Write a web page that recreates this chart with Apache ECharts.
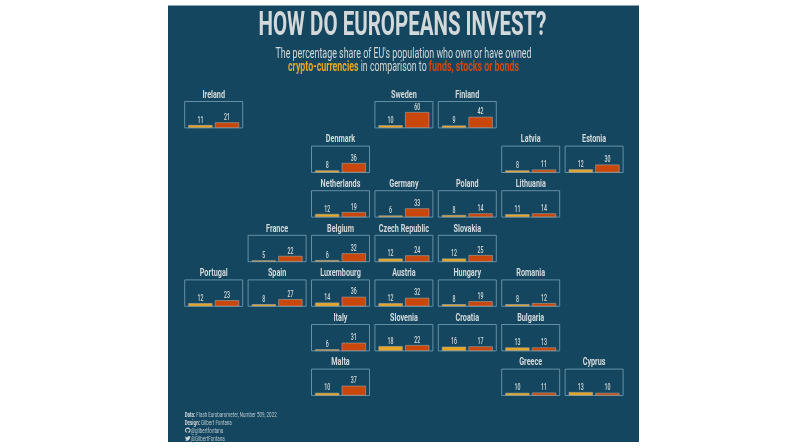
<!DOCTYPE html>
<html><head><meta charset="utf-8">
<style>html,body{margin:0;padding:0;background:#fff}#c{width:800px;height:448px}</style>
<script src="https://cdn.jsdelivr.net/npm/echarts@6/dist/echarts.min.js"></script>
</head><body><div id="c"></div>
<script>
const countries = ['Ireland','Sweden','Finland','Denmark','Latvia','Estonia','Netherlands','Germany','Poland','Lithuania','France','Belgium','Czech Republic','Slovakia','Portugal','Spain','Luxembourg','Austria','Hungary','Romania','Italy','Slovenia','Croatia','Bulgaria','Malta','Greece','Cyprus'];
const cryptoShare = [11,10,9,8,8,12,12,6,8,11,5,6,12,12,12,8,14,12,8,8,6,18,16,13,10,10,13];
const fundsShare  = [21,60,42,36,11,30,19,33,14,14,22,32,24,25,23,27,36,32,19,12,31,22,17,13,37,11,10];
const gridCol = [0,3,4,2,5,6,2,3,4,5,1,2,3,4,0,1,2,3,4,5,2,3,4,5,2,5,6];
const gridRow = [0,0,0,1,1,1,2,2,2,2,3,3,3,3,4,4,4,4,4,4,5,5,5,5,6,6,6];

const FONT = 'Roboto';
const X0 = 184.7, Y0 = 101.5, DX = 63.4, DY = 44.6, W = 58, H = 26.4;
const BG = '#14475f', YEL = '#e8a723', ORG = '#c9470b', TXT = '#d3d8da', FRAME = '#648fa5';

const ctx = document.createElement('canvas').getContext('2d');
function fit(text, font, target) { ctx.font = font; return target / ctx.measureText(text).width; }

const grids = [], xAxes = [], yAxes = [], series = [], graphic = [];
graphic.push({type: 'rect', z: -10, silent: true, shape: {x: 168, y: 5.5, width: 471, height: 436.5}, style: {fill: BG}});

const valueLabels = (api, offset) => {
  const p = api.coord([0, api.value(1)]);
  return {type: 'text', x: p[0] + offset, y: p[1] - 4.5, scaleX: 0.62, style: {
    text: String(api.value(1)), fill: TXT, font: '500 8.5px ' + FONT, align: 'center', verticalAlign: 'middle'}};
};

countries.forEach((name, i) => {
  const left = X0 + gridCol[i] * DX, top = Y0 + gridRow[i] * DY;
  grids.push({left, top, width: W, height: H, show: true, backgroundColor: 'transparent', borderColor: FRAME, borderWidth: 1});
  xAxes.push({type: 'category', gridIndex: i, data: [name], show: false});
  yAxes.push({type: 'value', gridIndex: i, min: 0, max: 100, show: false});
  [[cryptoShare, YEL, 'Crypto-currencies', -13.3], [fundsShare, ORG, 'Funds, stocks or bonds', 13.3]].forEach(([arr, color, sname, off]) => {
    series.push({
      type: 'bar', name: sname, xAxisIndex: i, yAxisIndex: i, data: [arr[i]], barWidth: 24.2, barGap: '10%',
      silent: true, animation: false,
      itemStyle: {color, borderColor: '#a9a39b', borderWidth: 0.6}
    });
    series.push({
      type: 'custom', coordinateSystem: 'cartesian2d', xAxisIndex: i, yAxisIndex: i, silent: true, animation: false, clip: false,
      data: [[0, arr[i]]], encode: {x: 0, y: 1},
      renderItem: (p, api) => valueLabels(api, off)
    });
  });
  graphic.push({type: 'text', silent: true, x: left + W / 2, y: top - 6.5, scaleX: 0.63, style: {
    text: name, fill: TXT, font: 'bold 11.5px ' + FONT, align: 'center', verticalAlign: 'middle'}});
});

const titleText = 'HOW DO EUROPEANS INVEST?', titleFont = 'bold 33px ' + FONT;
const sub1 = "The percentage share of EU's population who own or have owned", subFont = '14px ' + FONT, subBold = 'bold 14px ' + FONT;
const sub2a = 'crypto-currencies', sub2b = ' in comparison to ', sub2c = 'funds, stocks or bonds';
ctx.font = subBold; let w2 = ctx.measureText(sub2a).width + ctx.measureText(sub2c).width;
ctx.font = subFont; w2 += ctx.measureText(sub2b).width;

graphic.push(
  {type: 'text', silent: true, x: 402.5, y: 27, scaleX: fit(titleText, titleFont, 288), style: {text: titleText, fill: TXT, font: titleFont, align: 'center', verticalAlign: 'middle'}},
  {type: 'text', silent: true, x: 403.5, y: 54.5, scaleX: fit(sub1, subFont, 256), style: {text: sub1, fill: TXT, font: subFont, align: 'center', verticalAlign: 'middle'}},
  {type: 'text', silent: true, x: 403.5, y: 67.5, scaleX: 231 / w2, style: {
    text: '{a|' + sub2a + '}' + sub2b + '{o|' + sub2c + '}', fill: TXT, font: subFont, align: 'center', verticalAlign: 'middle',
    rich: {a: {fill: YEL, font: subBold}, o: {fill: '#d2480e', font: subBold}}
  }}
);

const foot = [
  ['{b|Data:} Flash Eurobarometer, Number 509, 2022', 184.7, 415.5],
  ['{b|Design:} Gilbert Fontana', 184.7, 423.5],
  ['@gilbertfontana', 191, 431],
  ['@GilbertFontana', 191, 439]
];
foot.forEach(([text, x, y]) => graphic.push({type: 'text', silent: true, x, y, scaleX: 0.6, style: {
  text, fill: '#b9c6cd', font: '7.5px ' + FONT, verticalAlign: 'middle',
  rich: {b: {fill: TXT, font: 'bold 7.5px ' + FONT}}
}}));

const TW = 'M23.953 4.57a10 10 0 0 1-2.825.775 4.958 4.958 0 0 0 2.163-2.723c-.951.555-2.005.959-3.127 1.184a4.92 4.92 0 0 0-8.384 4.482C7.69 8.095 4.067 6.13 1.64 3.162a4.822 4.822 0 0 0-.666 2.475c0 1.71.87 3.213 2.188 4.096a4.904 4.904 0 0 1-2.228-.616v.06a4.923 4.923 0 0 0 3.946 4.827 4.996 4.996 0 0 1-2.212.085 4.936 4.936 0 0 0 4.604 3.417 9.867 9.867 0 0 1-6.102 2.105c-.39 0-.779-.023-1.17-.067a13.995 13.995 0 0 0 7.557 2.209c9.053 0 13.998-7.496 13.998-13.985 0-.21 0-.42-.015-.63A9.935 9.935 0 0 0 24 4.59z';
const GH = 'M12 .297c-6.63 0-12 5.373-12 12 0 5.303 3.438 9.8 8.205 11.385.6.113.82-.258.82-.577 0-.285-.01-1.04-.015-2.04-3.338.724-4.042-1.61-4.042-1.61C4.422 18.07 3.633 17.7 3.633 17.7c-1.087-.744.084-.729.084-.729 1.205.084 1.838 1.236 1.838 1.236 1.07 1.835 2.809 1.305 3.495.998.108-.776.417-1.305.76-1.605-2.665-.3-5.466-1.332-5.466-5.93 0-1.31.465-2.38 1.235-3.22-.135-.303-.54-1.523.105-3.176 0 0 1.005-.322 3.3 1.23.96-.267 1.98-.399 3-.405 1.02.006 2.04.138 3 .405 2.28-1.552 3.285-1.23 3.285-1.23.645 1.653.24 2.873.12 3.176.765.84 1.23 1.91 1.23 3.22 0 4.61-2.805 5.625-5.475 5.92.42.36.81 1.096.81 2.22 0 1.606-.015 2.896-.015 3.286 0 .315.21.69.825.57C20.565 22.092 24 17.592 24 12.297c0-6.627-5.373-12-12-12';
const icons = [[GH, 185, 427.5, 5.6, 5.6], [TW, 185, 436, 5.6, 4.8]];
series.push({
  type: 'custom', coordinateSystem: 'none', silent: true, animation: false, data: [[0], [1]],
  renderItem: (p) => {
    const [pathData, x, y, width, height] = icons[p.dataIndex];
    return {type: 'path', shape: {pathData, x, y, width, height, layout: 'cover'}, style: {fill: TXT}};
  }
});

const chart = echarts.init(document.getElementById('c'));
chart.setOption({animation: false, backgroundColor: '#fff', grid: grids, xAxis: xAxes, yAxis: yAxes, series, graphic: {elements: graphic}});
</script></body></html>
